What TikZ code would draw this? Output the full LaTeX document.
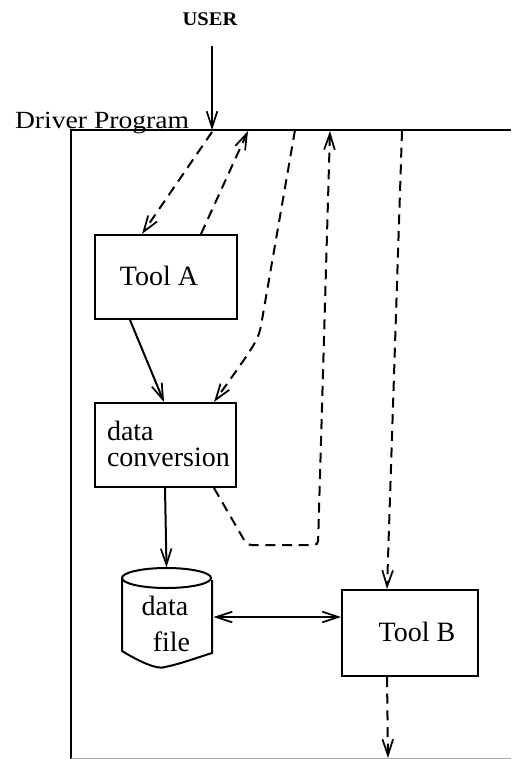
\documentclass[tikz,border=0pt]{standalone}
\usepackage{fontspec}
\setmainfont{Liberation Serif}
\usetikzlibrary{arrows.meta,calc}
\begin{document}
\begin{tikzpicture}[x=0.75pt,y=-0.75pt,
  line width=1.5pt,
  arr/.style={-{Straight Barb[length=12pt,width=8pt,line width=1.3pt]}},
  darr/.style={{Straight Barb[length=12pt,width=8pt,line width=1.3pt]}-{Straight Barb[length=12pt,width=8pt,line width=1.3pt]}},
  dsh/.style={dash pattern=on 7.5pt off 5pt},
  box/.style={draw, line width=1.5pt, inner sep=0pt},
  lbl/.style={font=\fontsize{21}{19.5}\selectfont, inner sep=0pt}]
\useasboundingbox (0,0) rectangle (511,759);

% frame
\coordinate (fr) at (511,130);
\coordinate (fl) at (71,130);
\coordinate (fb) at (71,759);
\draw (fr) -- (fl) -- (fb);
\coordinate (bl) at (71,758);
\coordinate (br) at (511,758);
\draw[gray!70, line width=0.6pt] (bl) -- (br);

\node[anchor=base west, inner sep=0pt, font=\fontsize{18.5}{20}\selectfont] (dp) at (14,129) {\scalebox{1.12}[1]{Driver Program}};

% USER
\node[anchor=base, inner sep=0pt, font=\bfseries\fontsize{14.5}{15}\selectfont] (U) at (210,26) {\scalebox{1.06}[1]{USER}};
\coordinate (u) at (212,130);
\coordinate (us) at (212,46);
\draw[arr] (us) -- (u);

% boxes
\node[box, minimum width=106.5pt, minimum height=63pt] (A) at (166,277) {};
\node[lbl] at (159,276) {Tool A};

\node[box, minimum width=105.75pt, minimum height=63pt] (DC) at (165.5,445) {};
\node[lbl, align=left, anchor=west] (dct) at (106,444) {data\\conversion};

\node[box, minimum width=102pt, minimum height=64.5pt] (B) at (410,633) {};
\node[lbl] at (417,632) {Tool B};

% data file cylinder
\node[minimum width=67.5pt, minimum height=58pt, inner sep=0pt] (DF) at (166.5,615) {};
\draw (122,578) -- (122,651) .. controls (140,662) and (158,670) .. (165,667) .. controls (180,664) and (196,658) .. (212,653) -- (212,580);
\draw (166.5,578) ellipse [x radius=44.5, y radius=10];
\node[lbl, anchor=base] at (165,615) {data};
\node[lbl, anchor=base] at (171.5,651) {file};

% solid connectors
\draw[arr] ($(A.south west)+(36,0)$) -- ($(DC.north west)+(70,0)$);
\draw[arr] ($(DC.south west)+(71,0)$) -- ($(DF.north)+(0,-8)$);
\draw[darr] ($(DF.east)+(1,2)$) -- ($(B.west)+(0,-16)$);

% dashed connectors from top line
\coordinate (t2) at (248,131);
\coordinate (t3) at (295,130);
\coordinate (t4) at (330,131);
\coordinate (t5) at (402,131);
\coordinate (c3) at (262,320);
\coordinate (k1) at (247,545);
\coordinate (k2) at (318,545);
\coordinate (bot) at (388,758);

\draw[arr, dsh] ($(u)+(0,2)$) -- ($(A.north west)+(48,0)$);
\draw[arr, dsh] ($(A.north west)+(107,0)$) -- (t2);
\draw[arr, dsh] (t3) -- (c3) .. controls (258.5,340) .. ($(DC.north east)+(-23,0)$);
\draw[arr, dsh, rounded corners=3pt] ($(DC.south east)+(-23,0)$) -- (k1) -- (k2) -- (t4);
\draw[arr, dsh] (t5) -- ($(B.north west)+(46,0)$);
\draw[arr, dsh] ($(B.south west)+(46,0)$) -- (bot);
\end{tikzpicture}
\end{document}
